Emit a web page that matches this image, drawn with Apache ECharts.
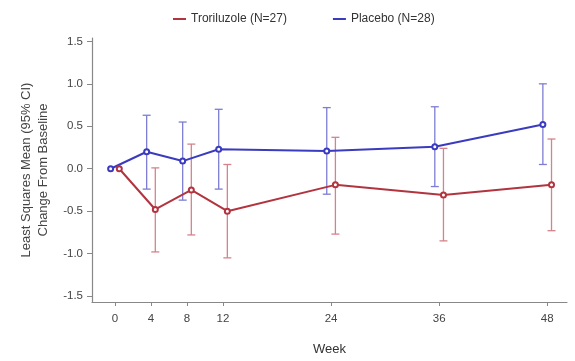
<!DOCTYPE html>
<html>
<head>
<meta charset="utf-8">
<script src="https://cdn.jsdelivr.net/npm/echarts@6/dist/echarts.min.js"></script>
<style>html,body{margin:0;padding:0;background:#fff}#c{width:575px;height:361px}</style>
</head>
<body>
<div id="c"></div>
<script>
const weeks = [0, 4, 8, 12, 24, 36, 48];
const xTicks = [0, 4, 8, 12, 24, 36, 48];
const yTicks = [-1.5, -1.0, -0.5, 0.0, 0.5, 1.0, 1.5];

const troriluzoleName = 'Troriluzole (N=27)';
const troriluzoleMean  = [0.00, -0.48, -0.25, -0.50, -0.19, -0.31, -0.19];
const troriluzoleLower = [null, -0.98, -0.78, -1.05, -0.77, -0.85, -0.73];
const troriluzoleUpper = [null,  0.01,  0.29,  0.05,  0.37,  0.24,  0.35];

const placeboName = 'Placebo (N=28)';
const placeboMean  = [0.00, 0.20, 0.09, 0.23, 0.21, 0.26, 0.52];
const placeboLower = [null, -0.24, -0.37, -0.24, -0.30, -0.21, 0.05];
const placeboUpper = [null,  0.63,  0.55,  0.70,  0.72,  0.73, 1.00];

const DODGE = 0.48;
const redLine = '#b1343f', redBar = '#d4838b';
const blueLine = '#3b3bbf', blueBar = '#7d7dd3';

function pts(mean, off) { return weeks.map((w, i) => [w + off, mean[i]]); }
function bars(lo, hi, off) {
  const out = [];
  weeks.forEach((w, i) => { if (lo[i] != null) out.push([w + off, lo[i], hi[i]]); });
  return out;
}
function errRender(color) {
  return function (params, api) {
    const x = api.value(0);
    const p1 = api.coord([x, api.value(1)]);
    const p2 = api.coord([x, api.value(2)]);
    const hw = 4;
    const st = { stroke: color, lineWidth: 1.3 };
    return { type: 'group', children: [
      { type: 'line', shape: { x1: p1[0], y1: p1[1], x2: p2[0], y2: p2[1] }, style: st },
      { type: 'line', shape: { x1: p1[0]-hw, y1: p1[1], x2: p1[0]+hw, y2: p1[1] }, style: st },
      { type: 'line', shape: { x1: p2[0]-hw, y1: p2[1], x2: p2[0]+hw, y2: p2[1] }, style: st }
    ]};
  };
}

const chart = echarts.init(document.getElementById('c'), null, { renderer: 'canvas' });
const font = 'Liberation Sans, Arial, sans-serif';
chart.setOption({
  animation: false,
  textStyle: { fontFamily: font },
  legend: {
    top: 8, left: 168, itemGap: 46, itemWidth: 13, itemHeight: 2,
    textStyle: { fontSize: 12, color: '#333', fontFamily: font },
    data: [
      { name: troriluzoleName, icon: 'rect', itemStyle: { color: redLine } },
      { name: placeboName, icon: 'rect', itemStyle: { color: blueLine } }
    ]
  },
  grid: { left: 92, right: 8, top: 38, bottom: 57 },
  xAxis: {
    type: 'value', min: -2.55, max: 50.2,
    name: 'Week', nameLocation: 'middle', nameGap: 41,
    nameTextStyle: { fontSize: 13, color: '#333', fontFamily: font },
    axisLine: { show: true, onZero: false, lineStyle: { color: '#888', width: 1.2 } },
    axisTick: { show: true, length: 4, customValues: xTicks, lineStyle: { color: '#888' } },
    axisLabel: { customValues: xTicks, margin: 11, fontSize: 11.5, color: '#444' },
    splitLine: { show: false }
  },
  yAxis: {
    type: 'value', min: -1.57, max: 1.54,
    name: 'Least Squares Mean (95% CI)\nChange From Baseline',
    nameLocation: 'middle', nameGap: 40,
    nameTextStyle: { fontSize: 13, color: '#444', lineHeight: 17, fontFamily: font },
    axisLine: { show: true, onZero: false, lineStyle: { color: '#888', width: 1.2 } },
    axisTick: { show: true, length: 5, customValues: yTicks, lineStyle: { color: '#888' } },
    axisLabel: { customValues: yTicks, margin: 9, fontSize: 11.5, color: '#444',
      formatter: v => v.toFixed(1) },
    splitLine: { show: false }
  },
  series: [
    { name: troriluzoleName, type: 'custom', renderItem: errRender(redBar),
      data: bars(troriluzoleLower, troriluzoleUpper, DODGE), z: 1, silent: true },
    { name: placeboName, type: 'custom', renderItem: errRender(blueBar),
      data: bars(placeboLower, placeboUpper, -DODGE), z: 1, silent: true },
    { name: troriluzoleName, type: 'line', data: pts(troriluzoleMean, DODGE),
      symbol: 'emptyCircle', symbolSize: 5, z: 3,
      lineStyle: { color: redLine, width: 2 }, itemStyle: { color: redLine, borderWidth: 1.2 } },
    { name: placeboName, type: 'line', data: pts(placeboMean, -DODGE),
      symbol: 'emptyCircle', symbolSize: 5, z: 3,
      lineStyle: { color: blueLine, width: 2 }, itemStyle: { color: blueLine, borderWidth: 1.2 } }
  ]
});
</script>
</body>
</html>
